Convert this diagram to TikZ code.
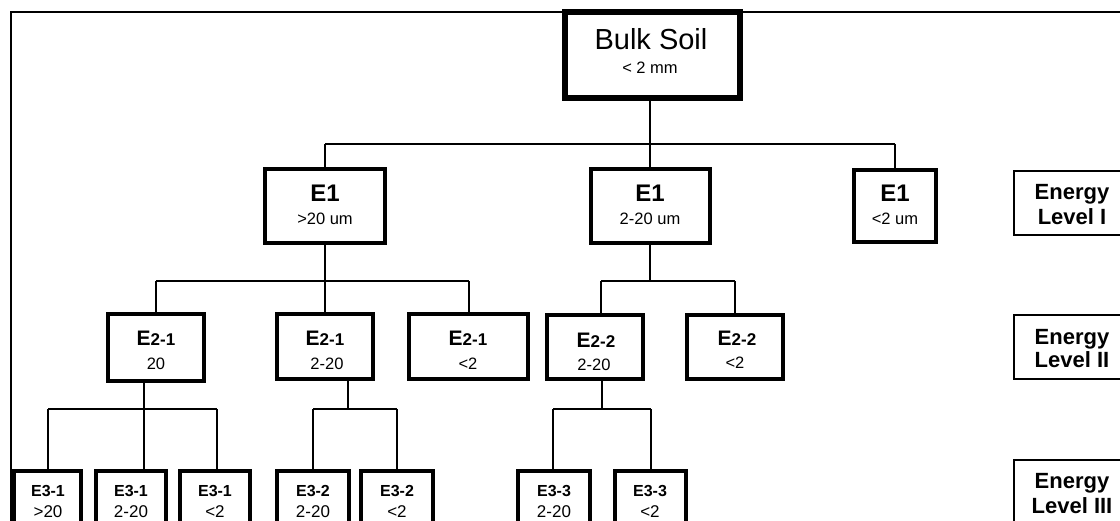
\documentclass[tikz,border=0pt]{standalone}
\usepackage{fontspec}
\setmainfont{Liberation Sans}
\newcommand\mybox[6]{\node[#6, minimum width={#4-#2-4}, minimum height={#5-#3-4}] (#1) at ({(#2+#4)/2},{(#3+#5)/2}) {};}
\newcommand\fs[1]{\fontsize{#1}{#1}\selectfont}
\begin{document}
\begin{tikzpicture}[x=1pt,y=-1pt,
  ebox/.style={draw, fill=white, line width=4.5pt, inner sep=0pt},
  bulkbox/.style={draw, fill=white, line width=6.5pt, inner sep=0pt},
  lvlbox/.style={draw, fill=white, line width=1.7pt, inner sep=0pt},
  conn/.style={draw, line width=1.8pt},
  frameline/.style={draw, line width=1.8pt},
  txt/.style={anchor=base, inner sep=0pt},
  small/.style={txt, font=\fs{16.5}},
  tiny/.style={txt, font=\fs{17}},
  e1t/.style={txt, font=\bfseries\fs{24}},
  e2t/.style={txt, font=\bfseries\fs{21}},
  e3t/.style={txt, font=\bfseries\fs{16}},
  lvt/.style={txt, font=\bfseries\fs{22}},
]
\useasboundingbox (0,0) rectangle (1120,521);
\begin{scope}
\clip (0,0) rectangle (1120,521);
% frame
\coordinate (fA) at (11,560);
\coordinate (fB) at (11,12);
\coordinate (fC) at (1140,12);
\draw[frameline] (fA) -- (fB) -- (fC);

% junction coordinates
\coordinate (b1) at (650,144);
\coordinate (k1a) at (325,144);
\coordinate (k1c) at (895,144);
\coordinate (b2a) at (325,281);
\coordinate (k2a) at (156,281);
\coordinate (k2c) at (469,281);
\coordinate (b2b) at (650,281);
\coordinate (k2d) at (601,281);
\coordinate (k2e) at (735,281);
\coordinate (b3a) at (144,409);
\coordinate (k3a) at (48,409);
\coordinate (k3c) at (217,409);
\coordinate (b3b) at (348,409);
\coordinate (k3d) at (313,409);
\coordinate (k3e) at (397,409);
\coordinate (b3c) at (602,409);
\coordinate (k3f) at (553,409);
\coordinate (k3g) at (651,409);

\mybox{bulk}{563}{10}{742}{100}{bulkbox}
\mybox{e1a}{263}{167}{387}{245}{ebox}
\mybox{e1b}{589}{167}{712}{245}{ebox}
\mybox{e1c}{852}{168}{938}{244}{ebox}
\mybox{e2a}{106}{312}{206}{383}{ebox}
\mybox{e2b}{275}{312}{375}{381}{ebox}
\mybox{e2c}{407}{312}{530}{381}{ebox}
\mybox{e2d}{545}{313}{645}{381}{ebox}
\mybox{e2e}{685}{313}{785}{381}{ebox}
\mybox{e3a}{12}{469}{83}{550}{ebox}
\mybox{e3b}{94}{469}{168}{550}{ebox}
\mybox{e3c}{178}{469}{252}{550}{ebox}
\mybox{e3d}{275}{469}{351}{550}{ebox}
\mybox{e3e}{359}{469}{435}{550}{ebox}
\mybox{e3f}{516}{469}{592}{550}{ebox}
\mybox{e3g}{613}{469}{688}{550}{ebox}
\mybox{lv1}{1012}{169}{1135}{237}{lvlbox}
\mybox{lv2}{1012}{313}{1135}{381}{lvlbox}
\mybox{lv3}{1012}{458}{1135}{550}{lvlbox}

% connectors
\draw[conn] (b1 |- bulk.south) -- (b1);
\draw[conn] (k1a) -- (k1c);
\draw[conn] (k1a) -- (k1a |- e1a.north);
\draw[conn] (b1) -- (b1 |- e1b.north);
\draw[conn] (k1c) -- (k1c |- e1c.north);

\draw[conn] (b2a |- e1a.south) -- (b2a);
\draw[conn] (k2a) -- (k2c);
\draw[conn] (k2a) -- (k2a |- e2a.north);
\draw[conn] (b2a) -- (b2a |- e2b.north);
\draw[conn] (k2c) -- (k2c |- e2c.north);

\draw[conn] (b2b |- e1b.south) -- (b2b);
\draw[conn] (k2d) -- (k2e);
\draw[conn] (k2d) -- (k2d |- e2d.north);
\draw[conn] (k2e) -- (k2e |- e2e.north);

\draw[conn] (b3a |- e2a.south) -- (b3a);
\draw[conn] (k3a) -- (k3c);
\draw[conn] (k3a) -- (k3a |- e3a.north);
\draw[conn] (b3a) -- (b3a |- e3b.north);
\draw[conn] (k3c) -- (k3c |- e3c.north);

\draw[conn] (b3b |- e2b.south) -- (b3b);
\draw[conn] (k3d) -- (k3e);
\draw[conn] (k3d) -- (k3d |- e3d.north);
\draw[conn] (k3e) -- (k3e |- e3e.north);

\draw[conn] (b3c |- e2d.south) -- (b3c);
\draw[conn] (k3f) -- (k3g);
\draw[conn] (k3f) -- (k3f |- e3f.north);
\draw[conn] (k3g) -- (k3g |- e3g.north);

% texts
\node[txt, font=\fs{29}] (tBulk) at (651,50) {Bulk Soil};
\node[small] (tBulk2) at (650,74) {< 2 mm};

\node[e1t] (t1a) at (325,202) {E1};
\node[small] (t1a2) at (325,225) {>20 um};
\node[e1t] (t1b) at (650,202) {E1};
\node[small] (t1b2) at (650,225) {2-20 um};
\node[e1t] (t1c) at (895,202) {E1};
\node[small] (t1c2) at (895,225) {<2 um};

\node[e2t] (t2a) at (156,346) {E{\fs{17}2-1}};
\node[small] (t2a2) at (156,370) {20};
\node[e2t] (t2b) at (325,346) {E{\fs{17}2-1}};
\node[small] (t2b2) at (327,370) {2-20};
\node[e2t] (t2c) at (468,346) {E{\fs{17}2-1}};
\node[small] (t2c2) at (468,370) {<2};
\node[e2t] (t2d) at (596,348) {E{\fs{17}2-2}};
\node[small] (t2d2) at (594,371) {2-20};
\node[e2t] (t2e) at (737,346) {E{\fs{17}2-2}};
\node[small] (t2e2) at (735,369) {<2};

\node[e3t] (t3a) at (48,496) {E3-1};
\node[tiny] (t3a2) at (48,517) {>20};
\node[e3t] (t3b) at (131,496) {E3-1};
\node[tiny] (t3b2) at (131,517) {2-20};
\node[e3t] (t3c) at (215,496) {E3-1};
\node[tiny] (t3c2) at (215,517) {<2};
\node[e3t] (t3d) at (313,496) {E3-2};
\node[tiny] (t3d2) at (313,517) {2-20};
\node[e3t] (t3e) at (397,496) {E3-2};
\node[tiny] (t3e2) at (397,517) {<2};
\node[e3t] (t3f) at (554,496) {E3-3};
\node[tiny] (t3f2) at (554,517) {2-20};
\node[e3t] (t3g) at (650,496) {E3-3};
\node[tiny] (t3g2) at (650,517) {<2};

\node[lvt] (tl1) at (1072,200) {Energy};
\node[lvt] (tl1b) at (1072,225) {Level I};
\node[lvt] (tl2) at (1072,345) {Energy};
\node[lvt] (tl2b) at (1072,368) {Level II};
\node[lvt] (tl3) at (1072,488) {Energy};
\node[lvt] (tl3b) at (1072,513) {Level III};
\end{scope}
\end{tikzpicture}
\end{document}
